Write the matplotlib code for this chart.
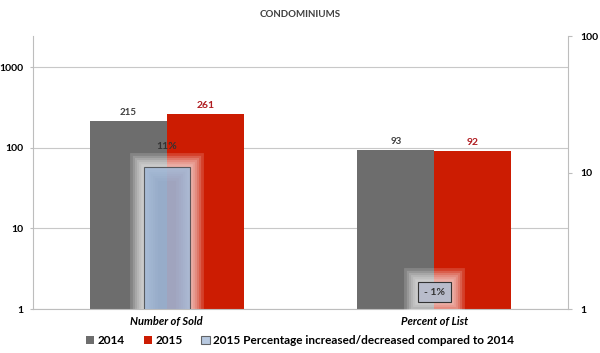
import matplotlib.pyplot as plt
import matplotlib.patheffects as pe
from matplotlib.ticker import FixedLocator, FixedFormatter, NullLocator

categories = ["Number of Sold", "Percent of List"]
vals_2014 = [215, 93]
vals_2015 = [261, 92]
pct_change = [11, -1]
pct_labels = ["11%", "- 1%"]

plt.rcParams['font.family'] = ['Lato', 'DejaVu Sans']

fig = plt.figure(figsize=(6, 3.53), dpi=100)
ax = fig.add_axes([0.055, 0.1246, 0.892, 0.7734])
x = [0, 1]
w = 0.288

gray = '#6d6d6d'
red = '#cc1c02'
ax.bar([i - w / 2 for i in x], vals_2014, w, color=gray, zorder=2, label='2014')
ax.bar([i + w / 2 for i in x], vals_2015, w, color=red, zorder=2, label='2015')

ax.set_yscale('log')
ax.set_ylim(1, 2430)
ax.set_xlim(-0.5, 1.5)
ax.yaxis.set_major_locator(FixedLocator([1, 10, 100, 1000]))
ax.yaxis.set_major_formatter(FixedFormatter(['1', '10', '100', '1000']))
ax.yaxis.set_minor_locator(NullLocator())
ax.grid(axis='y', color='#c8c8c8', lw=0.8, zorder=0)
for s in ['top', 'right']:
    ax.spines[s].set_visible(False)
for s in ['left', 'bottom']:
    ax.spines[s].set_color('#bdbdbd')
ax.tick_params(axis='y', length=2, color='#bdbdbd', labelsize=7.5, pad=5)
ax.tick_params(axis='x', length=0, pad=5)
for t in ax.get_yticklabels():
    t.set_fontweight('bold')
ax.set_xticks(x)
ax.set_xticklabels(categories, fontsize=8, fontstyle='italic', fontweight='bold')

# values above bars
for i in x:
    ax.text(i - w / 2, vals_2014[i] * 1.12, str(vals_2014[i]), ha='center', va='bottom',
            fontsize=7, fontweight='bold', color='#404040')
    ax.text(i + w / 2, vals_2015[i] * 1.12, str(vals_2015[i]), ha='center', va='bottom',
            fontsize=7.5, fontweight='bold', color='#b01c20')

# secondary axis for percentage change
ax2 = ax.twinx()
ax2.set_yscale('log')
ax2.set_ylim(1, 100)
ax2.yaxis.set_major_locator(FixedLocator([1, 10, 100]))
ax2.yaxis.set_major_formatter(FixedFormatter(['1', '10', '100']))
ax2.yaxis.set_minor_locator(NullLocator())
for s in ['top', 'left', 'bottom']:
    ax2.spines[s].set_visible(False)
ax2.spines['right'].set_color('#bdbdbd')
ax2.tick_params(axis='y', length=3, color='#bdbdbd', labelsize=7.5, pad=6)
for t in ax2.get_yticklabels():
    t.set_fontweight('bold')

# soft white glow round the boxes
glow = [pe.Stroke(linewidth=lw, foreground='white', alpha=0.16)
        for lw in (20, 16, 13, 10, 7, 4)] + [pe.Normal()]

pw = 0.172
bars = ax2.bar(x[0], pct_change[0], pw, color='#9db4d4', alpha=0.72, edgecolor='#333333',
               lw=0.8, zorder=4, label='2015 Percentage increased/decreased compared to 2014')
for b in bars:
    b.set_path_effects(glow)
ax2.text(x[0], pct_change[0] * 1.4, pct_labels[0], ha='center', va='center', fontsize=7.5,
         fontweight='bold', color='#333333', zorder=5)
t2 = ax2.text(x[1], 1.33, pct_labels[1], ha='center', va='center', fontsize=7.5,
              fontweight='bold', color='#333333', zorder=5,
              bbox=dict(boxstyle='square,pad=0.55', fc='#b8bccb', ec='#333333', lw=0.8))
t2.get_bbox_patch().set_path_effects(glow)

fig.text(0.5, 0.958, 'CONDOMINIUMS', ha='center', va='center', fontsize=7,
         fontweight='bold', color='#404040')

h1, l1 = ax.get_legend_handles_labels()
h2, l2 = ax2.get_legend_handles_labels()
leg = fig.legend(h1 + h2, l1 + l2, loc='center', bbox_to_anchor=(0.5, 0.034), ncol=3,
                 frameon=False, handlelength=0.7, handleheight=0.7,
                 handletextpad=0.3, columnspacing=1.6, prop={'weight': 'bold', 'size': 8.5})
for h in leg.legend_handles:
    h.set_path_effects([])

fig.savefig('out.png', dpi=100)
